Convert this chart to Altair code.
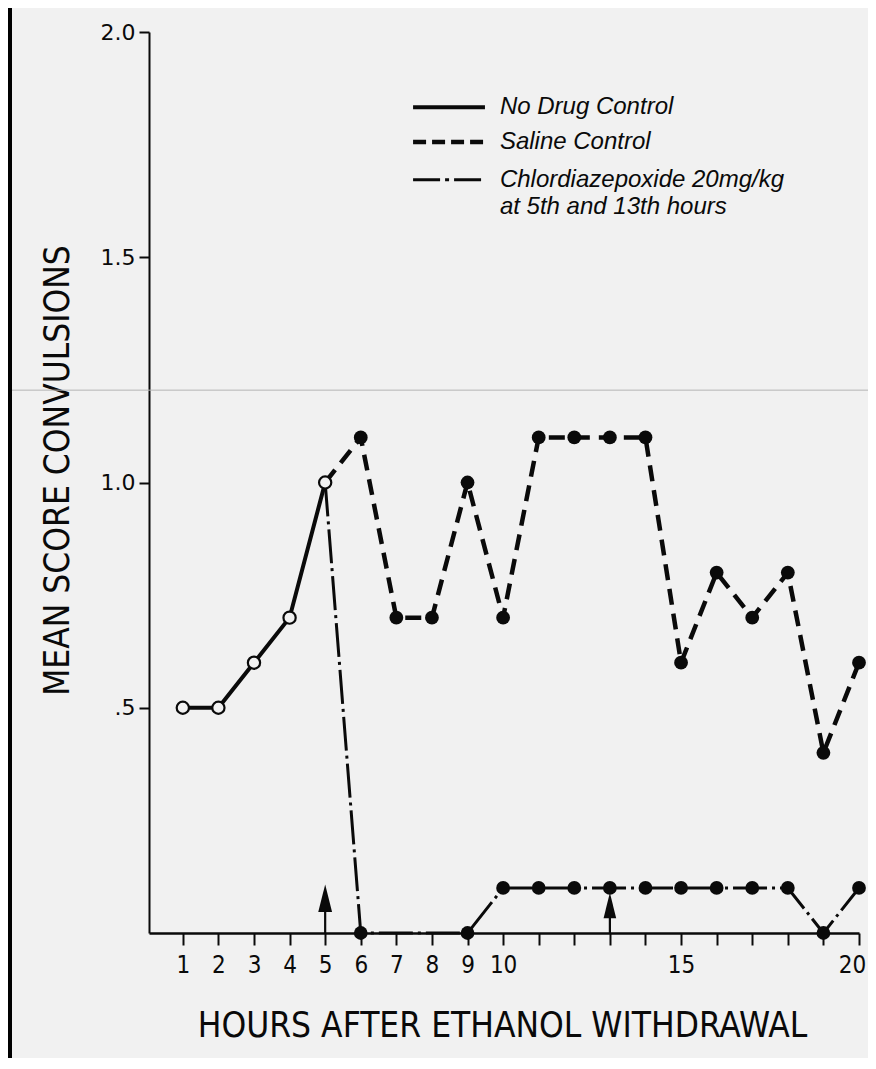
import altair as alt
import pandas as pd

# ---- data ----
no_drug_hours = [1, 2, 3, 4, 5]
no_drug_score = [0.5, 0.5, 0.6, 0.7, 1.0]

saline_hours = [5, 6, 7, 8, 9, 10, 11, 12, 13, 14, 15, 16, 17, 18, 19, 20]
saline_score = [1.0, 1.1, 0.7, 0.7, 1.0, 0.7, 1.1, 1.1, 1.1, 1.1, 0.6, 0.8, 0.7, 0.8, 0.4, 0.6]

cdp_hours = [5, 6, 7, 8, 9, 10, 11, 12, 13, 14, 15, 16, 17, 18, 19, 20]
cdp_score = [1.0, 0.0, 0.0, 0.0, 0.0, 0.1, 0.1, 0.1, 0.1, 0.1, 0.1, 0.1, 0.1, 0.1, 0.0, 0.1]
cdp_marker_hours = [6, 9, 10, 11, 12, 13, 14, 15, 16, 17, 18, 19, 20]

arrow_hours = [5, 13]
arrow_head_mid = [0.077, 0.061]
arrow_head_size = [760, 640]

x_tick_values = list(range(1, 21))
x_labelled = [1, 2, 3, 4, 5, 6, 7, 8, 9, 10, 15, 20]
y_tick_values = [0.5, 1.0, 1.5, 2.0]

legend_labels = ["No Drug Control", "Saline Control", "Chlordiazepoxide 20mg/kg", "at 5th and 13th hours"]
legend_y = [1.833, 1.756, 1.672, 1.611]
legend_line_x = [7.47, 9.49]
legend_text_x = 9.91

scan_line_y = 1.205

NARROW = "Liberation Sans Narrow, DejaVu Sans Condensed, Liberation Sans"
INK = "#0a0a0a"
BG = "#f1f1f1"

# ---- tables ----
nd = pd.DataFrame({"hour": no_drug_hours, "score": no_drug_score})
sal = pd.DataFrame({"hour": saline_hours, "score": saline_score})
sal_pts = sal[sal["hour"] > 5]
cdp = pd.DataFrame({"hour": cdp_hours, "score": cdp_score})
cdp_pts = cdp[cdp["hour"].isin(cdp_marker_hours)]
arrows = pd.DataFrame({"hour": arrow_hours, "base": [0.0] * len(arrow_hours),
                       "mid": arrow_head_mid, "size": arrow_head_size})
leg_lines = pd.DataFrame({"hour": [legend_line_x[0]] * 3, "hour2": [legend_line_x[1]] * 3,
                          "score": legend_y[:3]})
leg_text = pd.DataFrame({"hour": [legend_text_x] * 4, "score": legend_y, "label": legend_labels})
scan = pd.DataFrame({"score": [scan_line_y]})

xs = alt.Scale(domain=[0.05, 20], nice=False, zero=False)
ys = alt.Scale(domain=[0, 2], nice=False, zero=True)

x_label_expr = "indexof([" + ",".join(str(v) for v in x_labelled) + "], datum.value) >= 0 ? datum.label : ''"
y_label_expr = "datum.value == 0.5 ? '.5' : format(datum.value, '.1f')"

xaxis = alt.Axis(values=x_tick_values, labelExpr=x_label_expr, title="HOURS AFTER ETHANOL WITHDRAWAL",
                 tickSize=12, tickWidth=2, tickColor=INK, domainColor=INK, domainWidth=2.5,
                 labelFont=NARROW, labelFontSize=24, labelColor=INK, labelPadding=8,
                 labelOffset=alt.expr("datum.value == 20 ? -7 : 0"),
                 labelFlush=False, labelOverlap=False, grid=False,
                 titleFont=NARROW, titleFontSize=35, titleColor=INK, titleFontWeight="normal",
                 titleX=353, titleY=92, titleBaseline="middle", titleAlign="center")
yaxis = alt.Axis(values=y_tick_values, labelExpr=y_label_expr,
                 title="MEAN SCORE CONVULSIONS",
                 tickSize=10, tickWidth=2, tickColor=INK, domainColor=INK, domainWidth=2,
                 labelFont="DejaVu Sans", labelFontSize=22, labelColor=INK, labelPadding=4,
                 labelFlush=False, grid=False,
                 titleFont=NARROW, titleFontSize=35, titleColor=INK, titleFontWeight="normal",
                 titleX=-92, titleY=438, titleAngle=-90, titleBaseline="middle", titleAlign="center")


def X(field="hour"):
    return alt.X(f"{field}:Q", scale=xs, axis=xaxis)


def Y(field="score"):
    return alt.Y(f"{field}:Q", scale=ys, axis=yaxis)


scan_layer = alt.Chart(scan).mark_rule(color="#b4b4b4", strokeWidth=1).encode(
    x=alt.value(-137), x2=alt.value(720), y=Y())

frame_layer = alt.Chart(scan).mark_rect(color="#000000").encode(
    x=alt.value(-141), x2=alt.value(-137), y=alt.value(-24), y2=alt.value(1026))

nd_line = alt.Chart(nd).mark_line(color=INK, strokeWidth=4).encode(x=X(), y=Y())
sal_line = alt.Chart(sal).mark_line(color=INK, strokeWidth=4.5, strokeDash=[16, 9]).encode(x=X(), y=Y())
cdp_line = alt.Chart(cdp).mark_line(color=INK, strokeWidth=3, strokeDash=[34, 5, 3, 5]).encode(x=X(), y=Y())

sal_dots = alt.Chart(sal_pts).mark_point(shape="circle", filled=True, color=INK, size=190, opacity=1).encode(
    x=X(), y=Y())
cdp_dots = alt.Chart(cdp_pts).mark_point(shape="circle", filled=True, color=INK, size=190, opacity=1).encode(
    x=X(), y=Y())
nd_dots = alt.Chart(nd).mark_point(shape="circle", filled=True, fill=BG, stroke=INK, strokeWidth=2.2,
                                   size=150, opacity=1).encode(x=X(), y=Y())

arrow_shaft = alt.Chart(arrows).mark_rule(color=INK, strokeWidth=2.2).encode(
    x=X(), y=Y("base"), y2="mid:Q")
arrow_head = alt.Chart(arrows).mark_point(shape="M0,-1L0.5,1L-0.5,1Z", filled=True, color=INK,
                                          opacity=1).encode(
    x=X(), y=Y("mid"), size=alt.Size("size:Q", scale=None, legend=None))

leg_solid = alt.Chart(leg_lines.iloc[[0]]).mark_rule(color=INK, strokeWidth=4).encode(
    x=X(), x2="hour2:Q", y=Y())
leg_dash = alt.Chart(leg_lines.iloc[[1]]).mark_rule(color=INK, strokeWidth=4.5, strokeDash=[13, 6]).encode(
    x=X(), x2="hour2:Q", y=Y())
leg_dashdot = alt.Chart(leg_lines.iloc[[2]]).mark_rule(color=INK, strokeWidth=3, strokeDash=[27, 5, 4, 5]).encode(
    x=X(), x2="hour2:Q", y=Y())
leg_labels = alt.Chart(leg_text).mark_text(align="left", baseline="middle", font="Liberation Sans",
                                           fontStyle="italic", fontSize=24, color=INK).encode(
    x=X(), y=Y(), text="label:N")

chart = alt.layer(
    scan_layer, frame_layer,
    cdp_line, sal_line, nd_line,
    arrow_shaft, arrow_head,
    sal_dots, cdp_dots, nd_dots,
    leg_solid, leg_dash, leg_dashdot, leg_labels,
).properties(
    width=710, height=901,
    background=BG,
    padding={"left": 141, "top": 24, "right": 9, "bottom": 125},
    autosize=alt.AutoSizeParams(type="none"),
).configure_view(stroke=None)

chart.save("out.html", embed_options={"renderer": "svg", "actions": False})
